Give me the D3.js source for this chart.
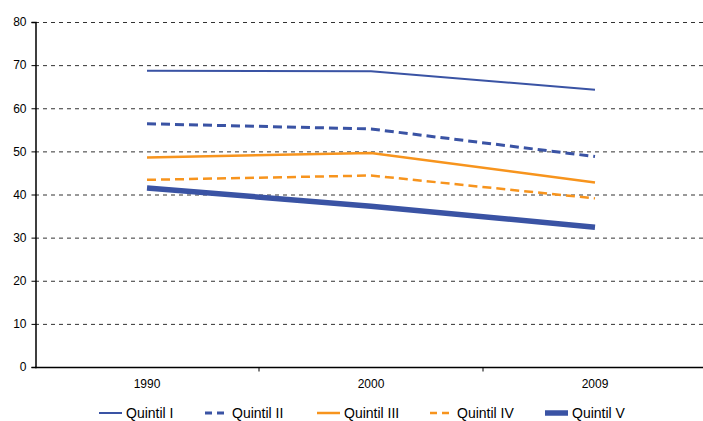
<!DOCTYPE html>
<html>
<head>
<meta charset="utf-8">
<script src="https://cdn.jsdelivr.net/npm/d3@7"></script>
<style>
  body { margin: 0; background: #fff; }
  text { font-family: "Liberation Sans", Arial, sans-serif; }
</style>
</head>
<body>
<svg id="chart" width="703" height="421"></svg>
<script>
// data
var years = ["1990", "2000", "2009"];
var seriesNames = ["Quintil I", "Quintil II", "Quintil III", "Quintil IV", "Quintil V"];
var quintil1 = [68.7, 68.6, 64.3];
var quintil2 = [56.4, 55.2, 48.8];
var quintil3 = [48.6, 49.6, 42.8];
var quintil4 = [43.4, 44.4, 39.1];
var quintil5 = [41.5, 37.3, 32.4];
var yTicks = [0, 10, 20, 30, 40, 50, 60, 70, 80];

var svg = d3.select("#chart");

var plotLeft = 35, plotRight = 707, plotTop = 22, plotBottom = 367;

var x = d3.scaleBand().domain(years).range([plotLeft, plotRight]);
var y = d3.scaleLinear().domain([0, 80]).range([plotBottom, plotTop]);

// styles per series
var styles = [
  { color: "#3a53a4", width: 2,   dash: null },
  { color: "#3a53a4", width: 3,   dash: "9,5" },
  { color: "#f7941d", width: 2.5, dash: null },
  { color: "#f7941d", width: 2.5, dash: "9,5" },
  { color: "#3a53a4", width: 5.5, dash: null }
];
var allValues = [quintil1, quintil2, quintil3, quintil4, quintil5];

// gridlines
svg.append("g").selectAll("line")
  .data(yTicks.filter(function(d) { return d > 0; }))
  .enter().append("line")
  .attr("x1", plotLeft).attr("x2", 703)
  .attr("y1", function(d) { return y(d) + 0.5; })
  .attr("y2", function(d) { return y(d) + 0.5; })
  .attr("stroke", "#333")
  .attr("stroke-width", 1)
  .attr("stroke-dasharray", "4,4");

// y axis
var yAxis = svg.append("g")
  .attr("transform", "translate(" + (plotLeft + 0.5) + ",0)")
  .call(d3.axisLeft(y).tickValues(yTicks).tickSize(4).tickPadding(5).tickFormat(d3.format("d")));
yAxis.select(".domain").attr("stroke", "#000").attr("stroke-width", 1.5);
yAxis.selectAll(".tick line").attr("stroke", "#000");
yAxis.selectAll("text").attr("font-size", 12).attr("fill", "#000")
  .style("font-family", "Liberation Sans, Arial, sans-serif");

// x axis
var xAxis = svg.append("g")
  .attr("transform", "translate(0," + (plotBottom + 0.5) + ")");
xAxis.append("line")
  .attr("x1", plotLeft).attr("x2", 703)
  .attr("stroke", "#000").attr("stroke-width", 1.5);
xAxis.selectAll(".sep")
  .data(years.slice(1))
  .enter().append("line")
  .attr("class", "sep")
  .attr("x1", function(d) { return x(d); })
  .attr("x2", function(d) { return x(d); })
  .attr("y1", 0).attr("y2", 4)
  .attr("stroke", "#000");
xAxis.selectAll(".lbl")
  .data(years)
  .enter().append("text")
  .attr("class", "lbl")
  .attr("x", function(d) { return x(d) + x.bandwidth() / 2; })
  .attr("y", 20)
  .attr("text-anchor", "middle")
  .attr("font-size", 12)
  .attr("fill", "#000")
  .text(function(d) { return d; });

// lines
var line = d3.line()
  .x(function(d, i) { return x(years[i]) + x.bandwidth() / 2; })
  .y(function(d) { return y(d); });

allValues.forEach(function(vals, i) {
  svg.append("path")
    .datum(vals)
    .attr("d", line)
    .attr("fill", "none")
    .attr("stroke", styles[i].color)
    .attr("stroke-width", styles[i].width)
    .attr("stroke-dasharray", styles[i].dash);
});

// legend
var legendX = [99, 205, 317, 430, 545];
var legend = svg.append("g");
seriesNames.forEach(function(name, i) {
  legend.append("line")
    .attr("x1", legendX[i]).attr("x2", legendX[i] + 23)
    .attr("y1", 413).attr("y2", 413)
    .attr("stroke", styles[i].color)
    .attr("stroke-width", styles[i].width)
    .attr("stroke-dasharray", styles[i].dash ? "7,5" : null);
  legend.append("text")
    .attr("x", legendX[i] + 27)
    .attr("y", 418)
    .attr("font-size", 14)
    .attr("fill", "#000")
    .text(name);
});
</script>
</body>
</html>
